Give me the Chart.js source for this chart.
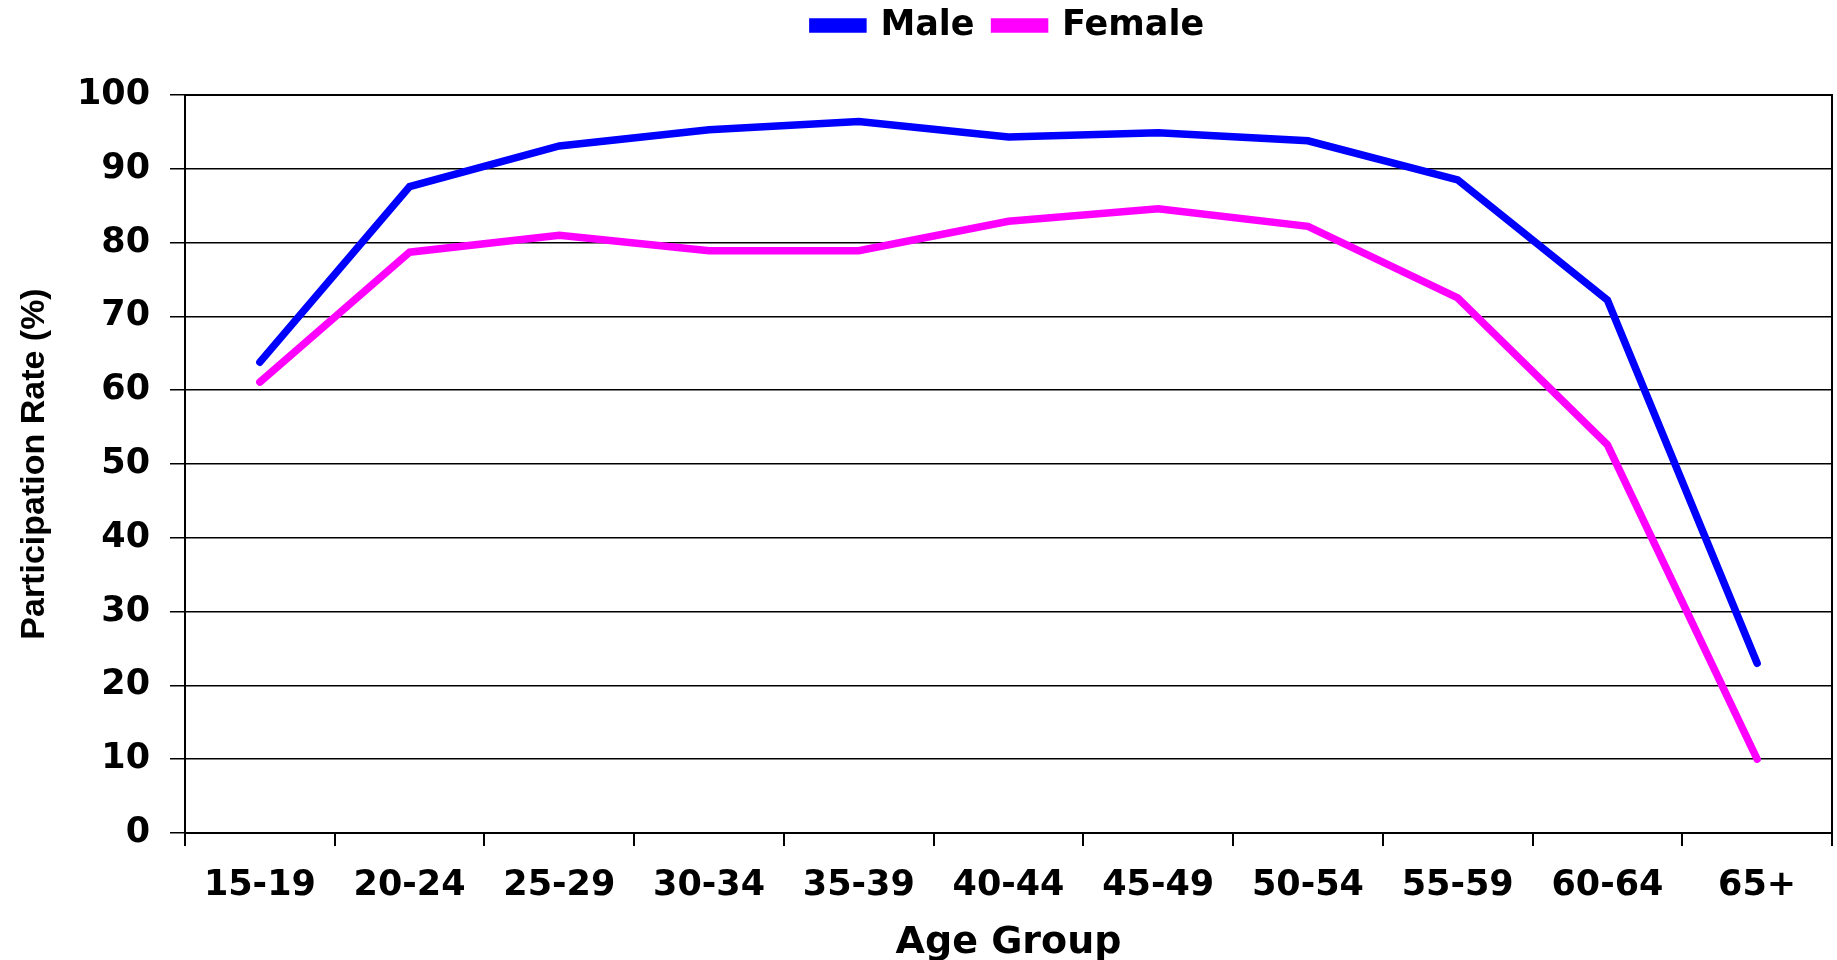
<!DOCTYPE html>
<html>
<head>
<meta charset="utf-8">
<script src="https://cdn.jsdelivr.net/npm/chart.js@4/dist/chart.umd.min.js"></script>
<style>
  html, body { margin: 0; padding: 0; background: #fff; }
  #wrap { width: 1837px; height: 960px; }
</style>
</head>
<body>
<div id="wrap"><canvas id="c" width="1837" height="960"></canvas></div>
<script>
const categories = ['15-19','20-24','25-29','30-34','35-39','40-44','45-49','50-54','55-59','60-64','65+'];
const maleValues = [63.8, 87.6, 93.1, 95.3, 96.4, 94.3, 94.9, 93.8, 88.5, 72.2, 23.0];
const femaleValues = [61.1, 78.7, 81.0, 78.9, 78.9, 82.9, 84.6, 82.2, 72.5, 52.6, 10.0];
const seriesNames = ['Male', 'Female'];
const yTitle = 'Participation Rate (%)';
const xTitle = 'Age Group';

const tickFont = { family: 'DejaVu Sans', weight: 'bold', size: 35 };

const framePlugin = {
  id: 'frame',
  afterLayout(chart) {
    const lg = chart.legend;
    if (lg) {
      lg.left = chart.chartArea.left;
      lg.right = chart.chartArea.right;
      lg.top -= 42;
      lg.bottom -= 42;
    }
  },
  beforeDatasetsDraw(chart) {
    const { ctx, chartArea: a } = chart;
    ctx.save();
    ctx.strokeStyle = '#000';
    ctx.lineWidth = 2;
    ctx.beginPath();
    ctx.moveTo(a.left, a.top);
    ctx.lineTo(a.right, a.top);
    ctx.lineTo(a.right, a.bottom);
    ctx.stroke();
    ctx.restore();
  }
};

new Chart(document.getElementById('c'), {
  type: 'line',
  data: {
    labels: categories,
    datasets: [
      { label: seriesNames[0], data: maleValues, borderColor: '#0000FF', backgroundColor: '#0000FF',
        borderWidth: 7.5, pointRadius: 0, tension: 0, borderCapStyle: 'round', borderJoinStyle: 'miter', fill: false },
      { label: seriesNames[1], data: femaleValues, borderColor: '#FF00FF', backgroundColor: '#FF00FF',
        borderWidth: 7.5, pointRadius: 0, tension: 0, borderCapStyle: 'round', borderJoinStyle: 'miter', fill: false }
    ]
  },
  options: {
    responsive: false,
    animation: false,
    events: [],
    layout: { padding: { top: 30, right: 5, bottom: 0, left: 0 } },
    plugins: {
      tooltip: { enabled: false },
      legend: {
        position: 'top',
        labels: {
          color: '#000',
          font: { family: 'DejaVu Sans', weight: 'bold', size: 35 },
          boxWidth: 50,
          boxHeight: 7,
          padding: 20
        }
      }
    },
    scales: {
      x: {
        type: 'category',
        offset: true,
        afterFit(scale) { scale.height = 127; },
        grid: { display: true, drawOnChartArea: false, drawTicks: true, tickLength: 13, offset: true, color: '#000', lineWidth: 2 },
        border: { display: true, color: '#000', width: 2 },
        ticks: { color: '#000', font: tickFont, padding: 19, maxRotation: 0, autoSkip: false },
        title: { display: true, text: xTitle, color: '#000', font: { family: 'DejaVu Sans', weight: 'bold', size: 38 }, padding: { top: 52, bottom: -6 } }
      },
      y: {
        min: 0,
        max: 100,
        afterFit(scale) { scale.width = 185; },
        ticks: { stepSize: 10, color: '#000', font: tickFont, padding: 20 },
        grid: { color: '#000', lineWidth: 1.5, tickLength: 15, drawTicks: true },
        border: { display: true, color: '#000', width: 2 },
        title: { display: true, text: yTitle, color: '#000', font: { family: 'Liberation Sans', weight: 'bold', size: 34 }, padding: { top: 14, bottom: 0 } }
      }
    }
  },
  plugins: [framePlugin]
});
</script>
</body>
</html>
